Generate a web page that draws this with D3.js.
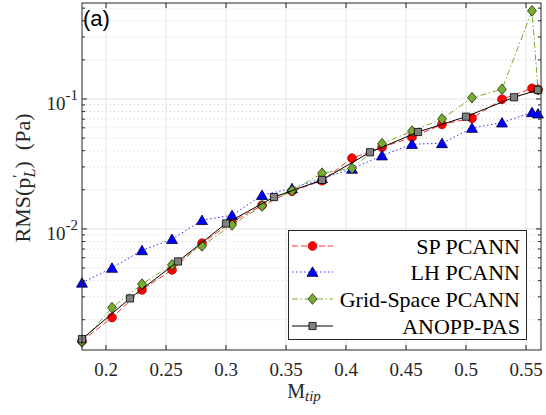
<!DOCTYPE html>
<html>
<head>
<meta charset="utf-8">
<script src="https://cdn.jsdelivr.net/npm/d3@7"></script>
<style>
  body { margin: 0; background: #fff; }
  svg { display: block; }
</style>
</head>
<body>
<svg id="chart" width="546" height="415"></svg>
<script>
// Mach numbers used by the PCANN runs and by ANOPP-PAS
var mTip      = [0.18, 0.205, 0.23, 0.255, 0.28, 0.305, 0.33, 0.355, 0.38, 0.405, 0.43, 0.455, 0.48, 0.505, 0.53, 0.555, 0.56];
var mTipAnopp = [0.18, 0.22, 0.26, 0.30, 0.34, 0.38, 0.42, 0.46, 0.50, 0.54, 0.56];

// RMS(p'_L) in Pa
var spPcann   = [0.00137, 0.00208, 0.0034, 0.00484, 0.00776, 0.0113, 0.0152, 0.0195, 0.0235, 0.035, 0.0425, 0.0507, 0.0638, 0.0711, 0.0995, 0.1208, 0.118];
var lhPcann   = [0.00385, 0.00501, 0.00684, 0.00834, 0.01167, 0.01274, 0.0182, 0.0205, 0.0245, 0.029, 0.0367, 0.0449, 0.0456, 0.0598, 0.0658, 0.079, 0.0771];
var gridPcann = [0.00135, 0.00248, 0.00376, 0.0053, 0.0074, 0.01073, 0.01503, 0.0197, 0.0268, 0.0293, 0.0453, 0.0565, 0.0702, 0.1023, 0.1188, 0.477, 0.118];
var anoppPas  = [0.00142, 0.00292, 0.00562, 0.01101, 0.01758, 0.02382, 0.0389, 0.0557, 0.0731, 0.1031, 0.1173];

var xTicks = [0.2, 0.25, 0.3, 0.35, 0.4, 0.45, 0.5, 0.55];
var yTicks = [0.01, 0.1];
var seriesNames = ["SP PCANN", "LH PCANN", "Grid-Space PCANN", "ANOPP-PAS"];

var svg = d3.select("#chart");
var axisCol = "#262626";
var serif = "'Liberation Serif', 'Times New Roman', serif";

// plot box (window.top is reserved, so no plain "top")
var pLeft = 82, pRight = 541, pTop = 3, pBottom = 350;

var x = d3.scaleLinear().domain([0.18, 0.5625]).range([pLeft, pRight]);
var y = d3.scaleLog().domain([0.00117, 0.548]).range([pBottom, pTop]);

// minor log ticks 2..9 x 10^k inside the domain
var yMinor = [];
[0.001, 0.01, 0.1].forEach(function(dec){
  for (var k = 2; k <= 9; k++) {
    var v = k * dec;
    if (v > y.domain()[0] && v < y.domain()[1]) yMinor.push(v);
  }
});

/*******************************************************************************
                                Grid
*******************************************************************************/
var grid = svg.append("g").attr("class", "grid");

grid.selectAll("line.ymin").data(yMinor).enter().append("line")
    .attr("x1", pLeft).attr("x2", pRight)
    .attr("y1", function(d){ return y(d); })
    .attr("y2", function(d){ return y(d); })
    .attr("stroke", "#c8c8c8")
    .attr("stroke-width", 1)
    .attr("stroke-dasharray", "1,3");

grid.selectAll("line.xmaj").data(xTicks).enter().append("line")
    .attr("x1", function(d){ return x(d); })
    .attr("x2", function(d){ return x(d); })
    .attr("y1", pTop).attr("y2", pBottom)
    .attr("stroke", "#e3e3e3")
    .attr("stroke-width", 1);

grid.selectAll("line.ymaj").data(yTicks).enter().append("line")
    .attr("x1", pLeft).attr("x2", pRight)
    .attr("y1", function(d){ return y(d); })
    .attr("y2", function(d){ return y(d); })
    .attr("stroke", "#e3e3e3")
    .attr("stroke-width", 1);

/*******************************************************************************
                                Series
*******************************************************************************/
var series = [
  { name: seriesNames[0], xs: mTip, ys: spPcann, color: "#ff3030", dash: "6,3", symbol: d3.symbolCircle, size: 60, fill: "#ff0000", edge: "#b00000" },
  { name: seriesNames[1], xs: mTip, ys: lhPcann, color: "#3030ff", dash: "1.5,2.5", symbol: d3.symbolTriangle, size: 52, fill: "#0000ff", edge: "#000033" },
  { name: seriesNames[2], xs: mTip, ys: gridPcann, color: "#77ac30", dash: "6,2.5,1.5,2.5", symbol: d3.symbolDiamond, size: 52, fill: "#77ac30", edge: "#1a2a08" },
  { name: seriesNames[3], xs: mTipAnopp, ys: anoppPas, color: "#000000", dash: null, symbol: d3.symbolSquare, size: 52, fill: "#808080", edge: "#000000" }
];

var line = d3.line()
    .x(function(d){ return x(d[0]); })
    .y(function(d){ return y(d[1]); });

// triangles sit a bit low, matlab diamonds are fatter than d3's
function markerTransform(s, px, py){
  var dy = s.symbol === d3.symbolTriangle ? 1.2 : 0;
  return "translate(" + px + "," + (py + dy) + ")" +
         (s.symbol === d3.symbolDiamond ? " scale(1.15,0.8)" : "");
}

var plot = svg.append("g").attr("class", "plot");

series.forEach(function(s){
  var pts = s.xs.map(function(v, i){ return [v, s.ys[i]]; });
  var g = plot.append("g");
  g.append("path")
   .datum(pts)
   .attr("d", line)
   .attr("fill", "none")
   .attr("stroke", s.color)
   .attr("stroke-width", 1)
   .attr("stroke-dasharray", s.dash);
  g.selectAll("path.m").data(pts).enter().append("path")
   .attr("class", "m")
   .attr("d", d3.symbol().type(s.symbol).size(s.size))
   .attr("transform", function(d){ return markerTransform(s, x(d[0]), y(d[1])); })
   .attr("fill", s.fill)
   .attr("stroke", s.edge)
   .attr("stroke-width", 0.8);
});

/*******************************************************************************
                                Axes
*******************************************************************************/
var ax = svg.append("g").attr("class", "axes");

// box
ax.append("rect")
  .attr("x", pLeft).attr("y", pTop)
  .attr("width", pRight - pLeft).attr("height", pBottom - pTop)
  .attr("fill", "none")
  .attr("stroke", axisCol)
  .attr("stroke-width", 1);

// x ticks bottom and top, pointing inward
xTicks.forEach(function(t){
  ax.append("line").attr("x1", x(t)).attr("x2", x(t)).attr("y1", pBottom).attr("y2", pBottom - 5).attr("stroke", axisCol);
  ax.append("line").attr("x1", x(t)).attr("x2", x(t)).attr("y1", pTop).attr("y2", pTop + 5).attr("stroke", axisCol);
});

// y ticks left and right
yTicks.forEach(function(t){
  ax.append("line").attr("x1", pLeft).attr("x2", pLeft + 5).attr("y1", y(t)).attr("y2", y(t)).attr("stroke", axisCol);
  ax.append("line").attr("x1", pRight).attr("x2", pRight - 5).attr("y1", y(t)).attr("y2", y(t)).attr("stroke", axisCol);
});
yMinor.forEach(function(t){
  ax.append("line").attr("x1", pLeft).attr("x2", pLeft + 3).attr("y1", y(t)).attr("y2", y(t)).attr("stroke", axisCol);
  ax.append("line").attr("x1", pRight).attr("x2", pRight - 3).attr("y1", y(t)).attr("y2", y(t)).attr("stroke", axisCol);
});

// x tick labels
ax.selectAll("text.xt").data(xTicks).enter().append("text")
  .attr("x", function(d){ return x(d); })
  .attr("y", 376)
  .attr("text-anchor", "middle")
  .attr("font-family", serif)
  .attr("font-size", 19)
  .attr("fill", axisCol)
  .text(function(d){ return d3.format("")(d); });

// y tick labels as 10^k
yTicks.forEach(function(t){
  var txt = ax.append("text")
    .attr("x", 78)
    .attr("y", y(t) + 11)
    .attr("text-anchor", "end")
    .attr("font-family", serif)
    .attr("font-size", 19)
    .attr("fill", axisCol);
  txt.append("tspan").text("10");
  txt.append("tspan").attr("dy", -10).attr("font-size", 15).text("-" + Math.round(-Math.log10(t)));
});

// x label
var xl = svg.append("text")
  .attr("x", 304).attr("y", 398)
  .attr("text-anchor", "middle")
  .attr("font-family", serif)
  .attr("font-size", 20)
  .attr("fill", axisCol);
xl.append("tspan").text("M");
xl.append("tspan").attr("dy", 3).attr("font-size", 15).attr("font-style", "italic").text("tip");

// y label
var yl = svg.append("text")
  .attr("transform", "translate(30,178) rotate(-90)")
  .attr("text-anchor", "middle")
  .attr("font-family", serif)
  .attr("font-size", 22)
  .attr("fill", axisCol);
yl.append("tspan").text("RMS(p");
yl.append("tspan").attr("dy", -7).attr("font-size", 15).text("\u2032");
yl.append("tspan").attr("dx", -3).attr("dy", 12).attr("font-size", 16).attr("font-style", "italic").text("L");
yl.append("tspan").attr("dy", -5).text(")\u2002(Pa)");

// panel tag
svg.append("text")
  .attr("x", 83).attr("y", 26)
  .attr("font-family", "'Liberation Sans', Arial, sans-serif")
  .attr("font-size", 22)
  .attr("fill", "#000")
  .text("(a)");

/*******************************************************************************
                                Legend
*******************************************************************************/
var legend = svg.append("g").attr("class", "legend");
legend.append("rect")
  .attr("x", 288.5).attr("y", 230.5)
  .attr("width", 238).attr("height", 109)
  .attr("fill", "#fff")
  .attr("stroke", axisCol)
  .attr("stroke-width", 1);

var rowY = [246, 272, 299, 326];
series.forEach(function(s, i){
  var yy = rowY[i];
  legend.append("line")
    .attr("x1", 292).attr("x2", 333)
    .attr("y1", yy).attr("y2", yy)
    .attr("stroke", s.color)
    .attr("stroke-width", 1)
    .attr("stroke-dasharray", s.dash);
  legend.append("path")
    .attr("d", d3.symbol().type(s.symbol).size(s.size))
    .attr("transform", markerTransform(s, 312.5, yy))
    .attr("fill", s.fill)
    .attr("stroke", s.edge)
    .attr("stroke-width", 0.8);
  legend.append("text")
    .attr("x", 520).attr("y", yy + 7.5)
    .attr("text-anchor", "end")
    .attr("font-family", serif)
    .attr("font-size", 22)
    .attr("fill", "#000")
    .text(s.name);
});
</script>
</body>
</html>
